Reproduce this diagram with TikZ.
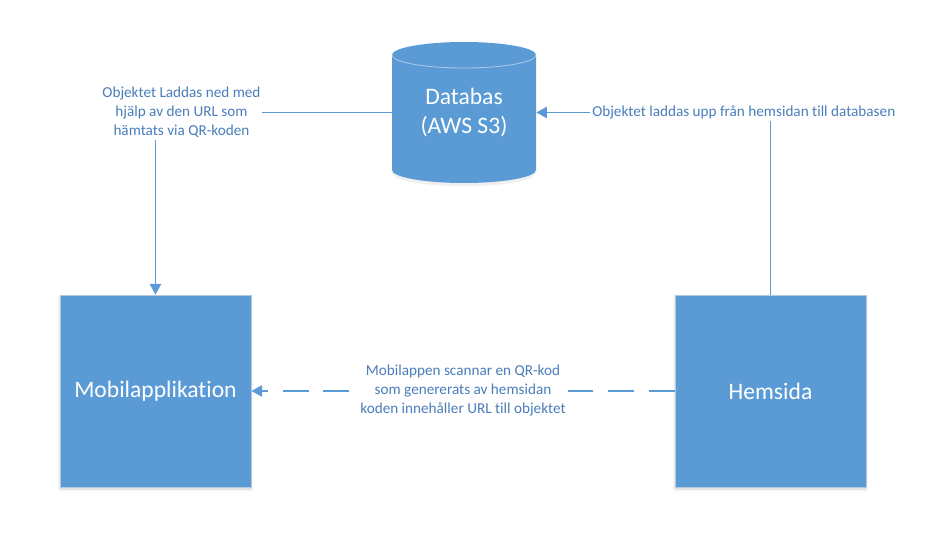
\documentclass[tikz,border=0pt]{standalone}
\usepackage{fontspec}
\setmainfont{Carlito}[Ligatures=NoCommon]
\usetikzlibrary{arrows.meta,shadows.blur}
\definecolor{boxfill}{HTML}{5B9BD5}
\definecolor{boxedge}{HTML}{B4C8DE}
\definecolor{linecol}{HTML}{5B9BD5}
\definecolor{lblcol}{HTML}{4A7EBB}
\tikzset{
  bigbox/.style={rectangle, fill=boxfill, draw=boxedge, line width=0.6pt,
    minimum width=143.25pt, minimum height=144pt, text=white,
    font=\fontsize{17.7}{21.75}\selectfont,
    blur shadow={shadow xshift=0pt, shadow yshift=-1.5pt, shadow blur radius=2pt, shadow opacity=18}},
  conn/.style={draw=linecol, line width=1.2pt, -{Triangle[length=8pt,width=8.5pt]}},
  dashconn/.style={conn, dash pattern=on 19.5pt off 11pt},
  lbl/.style={fill=white, text=lblcol, align=center, inner sep=1.5pt,
    font=\fontsize{11.4}{14.25}\selectfont},
  dbtext/.style={text=white, align=center, font=\fontsize{17.7}{21.75}\selectfont},
}
\begin{document}
\begin{tikzpicture}[x=0.75pt,y=-0.75pt]
\useasboundingbox (0,0) rectangle (925,545);
% cylinder
\fill[black, opacity=0.06] (392,60) -- (392,173) arc[start angle=180,end angle=360,x radius=54pt,y radius=9.9pt] -- (536,60) -- cycle;
\fill[boxfill] (392,55) -- (392,170) arc[start angle=180,end angle=360,x radius=54pt,y radius=9.75pt] -- (536,55) arc[start angle=0,end angle=180,x radius=54pt,y radius=9.75pt] -- cycle;
\draw[boxedge, line width=0.6pt] (392,55) arc[start angle=180,end angle=360,x radius=54pt,y radius=9.75pt];
\node[dbtext, minimum width=108pt, minimum height=105.75pt, inner sep=0pt] (db) at (464,112.5) {Databas\\(AWS S3)};
% boxes
\node[bigbox] (mob) at (155.5,391) {Mobilapplikation};
\node[bigbox] (hem) at (770.5,391) {Hemsida};
% connectors
\draw[conn] (db.west) -| node[lbl, pos=0.445] {Objektet Laddas ned med\\hjälp av den URL som\\hämtats via QR-koden} (mob.north);
\draw[conn] (hem.north) |- node[lbl, pos=0.557] {Objektet laddas upp från hemsidan till databasen} (db.east);
\draw[dashconn] (hem.west) -- node[lbl, pos=0.5] {Mobilappen scannar en QR-kod\\som genererats av hemsidan\\koden innehåller URL till objektet} (mob.east);
\end{tikzpicture}
\end{document}
